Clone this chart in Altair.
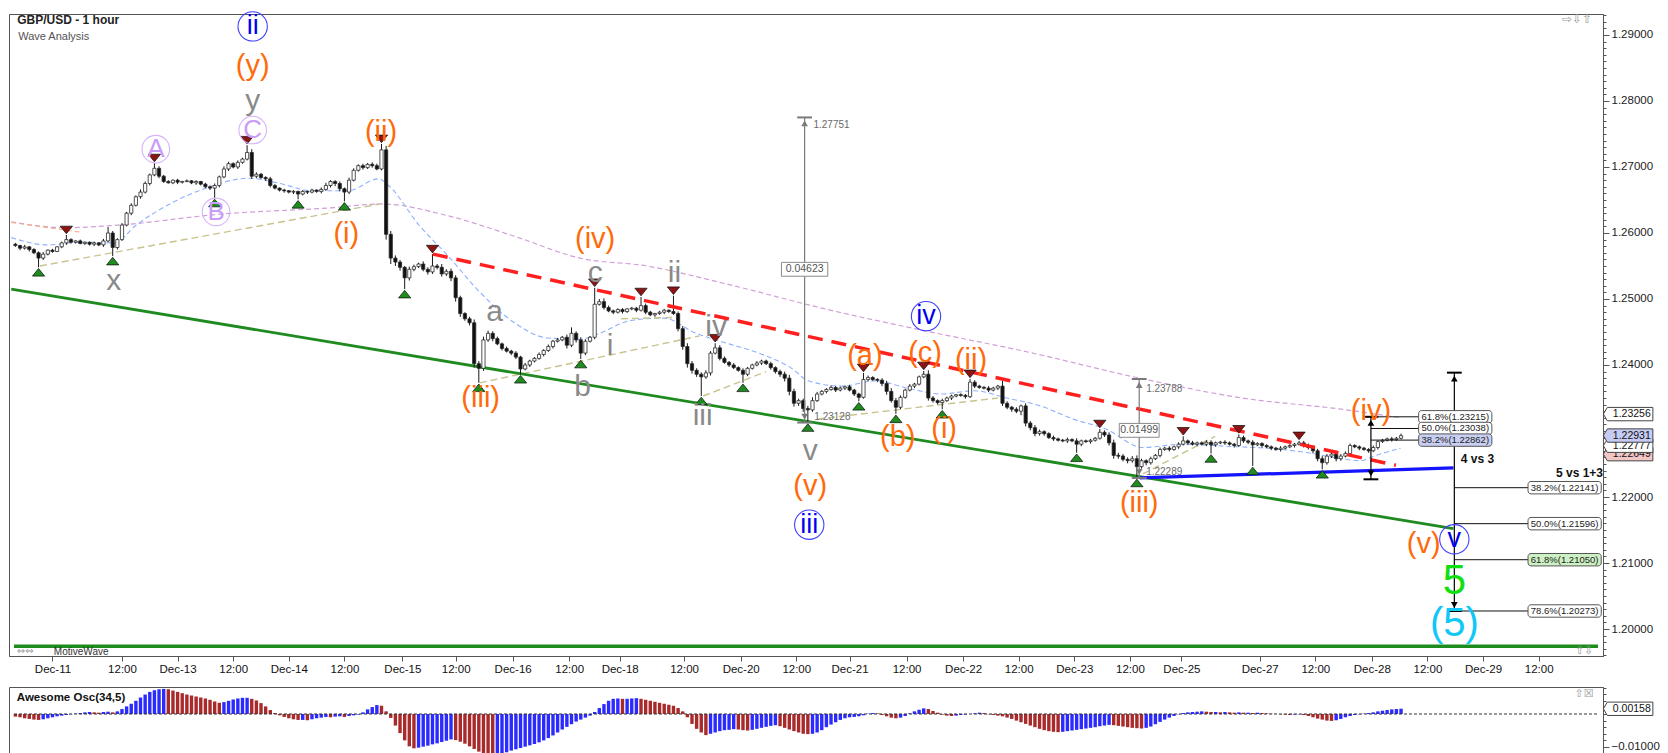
import altair as alt
import pandas as pd

FONT = "Liberation Sans"

# ---------------------------------------------------------------- data ----
# closes, in pips above 1.20000 (580 -> 1.25800), one per 1-hour bar
CLOSE_PIPS = [
    581, 577, 579, 575, 570, 562, 568, 574, 572, 579,
    585, 590, 586, 588, 584, 586, 583, 585, 582, 588,
    600, 578, 590, 612, 630, 642, 655, 662, 675, 688,
    698, 686, 678, 676, 680, 677, 678, 679, 676, 678,
    674, 670, 668, 672, 685, 697, 705, 700, 707, 712,
    722, 686, 689, 684, 682, 672, 668, 665, 664, 662,
    663, 659, 663, 662, 665, 663, 666, 672, 678, 675,
    667, 662, 680, 695, 702, 699, 704, 702, 697, 726,
    598, 562, 556, 548, 532, 545, 549, 553, 545, 541,
    550, 548, 538, 542, 532, 502, 478, 470, 464, 402,
    395, 438, 448, 440, 432, 425, 421, 418, 412, 394,
    400, 406, 410, 416, 422, 428, 436, 438, 442, 430,
    448, 438, 418, 436, 442, 492, 496, 487, 482, 480,
    484, 481, 485, 486, 483, 490, 480, 476, 478, 480,
    483, 481, 478, 455, 428, 402, 392, 386, 382, 388,
    418, 426, 410, 404, 400, 396, 392, 386, 395, 400,
    403, 406, 402, 396, 390, 386, 380, 360, 342, 346,
    334, 332, 346, 356, 360, 363, 366, 362, 365, 367,
    362, 356, 351, 378, 381, 378, 377, 372, 360, 346,
    336, 351, 362, 368, 371, 382, 386, 350, 346, 343,
    346, 350, 353, 355, 354, 352, 374, 368, 366, 365,
    362, 365, 368, 342, 336, 333, 330, 338, 312, 305,
    296, 299, 296, 290, 288, 286, 285, 287, 285, 280,
    285, 284, 286, 289, 298, 294, 282, 263, 262, 257,
    255, 258, 246, 255, 252, 258, 263, 272, 274, 272,
    276, 280, 285, 282, 280, 282, 280, 283, 279, 282,
    283, 282, 280, 278, 290, 285, 283, 279, 281, 278,
    276, 274, 272, 274, 276, 278, 280, 282, 278, 275,
    270, 258, 252, 262, 265, 258, 262, 266, 278, 276,
    274, 272, 270, 275, 284, 286, 288, 287, 289, 293,
]
# upper / lower wick length of each bar, in pips (one digit per bar)
WICK_UP = ("2131223121" "2021211213" "9323232432" "0322121212" "1223243232"
           "0532232121" "2121213422" "3243232330" "6543243243" "0353443235"
           "4543323232" "3223232324" "9343204532" "2212203212" "2103454334"
           "3043232322" "3223234543" "3453223222" "3220322345" "4323220632"
           "3221220322" "3228323243" "4322322324" "2222034543" "3453232323"
           "2302322332" "2322032322" "2223222033" "3343453332" "2223222323")
WICK_DN = ("2323203221" "2322122323" "2032232323" "2321232123" "2230323232"
           "2432332232" "3023223234" "4032232322" "8965043234" "3343565346"
           "0434232330" "2322323225" "3403232323" "2322323232" "3224565403"
           "4232322032" "2323345654" "5032232323" "2302323453" "0322322433"
           "0232232322" "3234343654" "4332322320" "3232234543" "4303432323"
           "2323232303" "2323233023" "2323223233" "4403343232" "3232322322")

# swing lows (green markers) and swing highs (red markers)
GREEN_BARS = [5, 21, 43, 61, 71, 84, 100, 109, 122, 148, 157, 171, 182, 190, 200, 229, 242, 258, 267, 282]
GREEN_LOWS = [1.2548, 1.2565, 1.2653, 1.2651, 1.2648, 1.2515, 1.2373, 1.2386, 1.2409, 1.2353,
              1.2373, 1.23128, 1.2345, 1.2326, 1.2333, 1.2267, 1.22289, 1.2266, 1.2247, 1.2242]
RED_BARS = [11, 30, 50, 79, 90, 125, 135, 142, 151, 183, 196, 206, 234, 252, 264, 277]
RED_HIGHS = [1.2597, 1.2706, 1.2733, 1.2735, 1.2568, 1.2517, 1.2503, 1.2505, 1.2433, 1.2388,
             1.2391, 1.2379, 1.2303, 1.2292, 1.2295, 1.2285]

# Awesome Oscillator (34,5), in thousandths
AO_MILLI = [
    -0.8, -1.0, -1.3, -1.5, -1.7, -1.8, -1.6, -1.3, -1.0, -0.7,
    -0.5, -0.3, -0.1, 0.1, 0.3, 0.5, 0.6, 0.5, 0.4, 0.6,
    0.7, 0.5, 0.8, 1.5, 2.3, 3.1, 4.0, 5.0, 5.9, 6.7,
    7.2, 7.5, 7.6, 7.5, 7.1, 6.7, 6.3, 5.9, 5.6, 5.3,
    5.0, 4.7, 4.3, 3.8, 3.4, 3.6, 4.0, 4.4, 4.7, 4.9,
    4.9, 4.6, 4.1, 3.3, 2.3, 1.2, 0.3, -0.4, -0.9, -1.3,
    -1.6, -1.8, -1.8, -1.9, -1.6, -1.3, -1.1, -0.9, -1.0, -0.8,
    -0.7, -0.9, -0.6, -0.4, -0.2, 0.5, 1.4, 2.1, 2.7, 2.5,
    0.8, -1.2, -3.5, -5.8, -8.0, -9.8, -10.4, -10.2, -9.9, -9.6,
    -9.2, -8.9, -8.5, -8.1, -7.7, -7.9, -8.4, -9.0, -9.8, -10.6,
    -11.4, -12.1, -12.6, -12.8, -12.5, -12.1, -11.6, -11.1, -10.7, -10.3,
    -9.9, -9.5, -9.1, -8.6, -8.0, -7.3, -6.5, -5.6, -4.7, -3.9,
    -3.1, -2.3, -1.7, -1.1, -0.5, 0.6, 1.8, 3.0, 4.0, 4.6,
    4.7, 4.6, 4.6, 4.7, 4.8, 4.6, 4.3, 4.0, 3.7, 3.4,
    3.1, 2.8, 2.5, 1.8, 0.8, -1.0, -3.0, -4.5, -5.6, -6.4,
    -6.0, -5.6, -5.2, -4.9, -4.8, -4.6, -4.7, -4.9, -5.0, -4.8,
    -4.5, -4.2, -3.9, -3.6, -3.4, -3.7, -4.2, -4.7, -5.2, -5.6,
    -6.0, -6.1, -6.0, -5.6, -4.9, -4.0, -3.2, -2.5, -1.8, -1.3,
    -1.0, -0.9, -0.7, -0.4, 0.1, 0.3, 0.2, -0.3, -0.7, -1.1,
    -1.3, -1.1, -0.6, 0.2, 0.8, 1.3, 1.7, 1.5, 0.9, 0.4,
    -0.2, -0.5, -0.6, -0.5, -0.3, -0.2, 0.0, 0.2, 0.4, 0.3,
    -0.1, -0.3, -0.5, -0.7, -1.1, -1.5, -2.0, -2.5, -3.0, -3.5,
    -4.0, -4.5, -4.9, -5.2, -5.4, -5.5, -5.4, -5.2, -5.0, -4.8,
    -4.6, -4.4, -4.2, -4.0, -3.7, -3.5, -3.3, -3.4, -3.6, -3.8,
    -4.0, -4.2, -4.3, -4.4, -4.2, -3.8, -3.1, -2.4, -1.7, -1.1,
    -0.6, -0.1, 0.3, 0.5, 0.6, 0.7, 0.8, 0.7, 0.6, 0.6,
    0.5, 0.6, 0.5, 0.4, 0.5, 0.4, 0.4, 0.3, 0.4, 0.3,
    0.2, 0.1, 0.0, -0.1, -0.2, -0.3, -0.2, -0.1, -0.3, -0.6,
    -1.0, -1.4, -1.7, -2.0, -2.1, -1.9, -1.5, -1.0, -0.6, -0.3,
    -0.1, 0.1, 0.3, 0.5, 0.8, 1.0, 1.2, 1.4, 1.5, 1.6,
]

# time axis (bar index of each tick and its label)
TICK_BARS = [8, 23, 35, 47, 59, 71, 83.5, 95, 107.3, 119.5, 130.4, 144.3, 156.5, 168.5,
             180, 192.3, 204.5, 216.5, 228.5, 240.5, 251.6, 268.5, 280.5, 292.7, 304.7, 316.7, 328.7]
TICK_LABELS = ["Dec-11", "12:00", "Dec-13", "12:00", "Dec-14", "12:00", "Dec-15", "12:00",
               "Dec-16", "12:00", "Dec-18", "12:00", "Dec-20", "12:00", "Dec-21", "12:00",
               "Dec-22", "12:00", "Dec-23", "12:00", "Dec-25", "Dec-27", "12:00", "Dec-28",
               "12:00", "Dec-29", "12:00"]

# moving averages (read as points along the curves)
PURPLE_MA_BAR = [-0.9, 10.7, 22.1, 45, 67.9, 79, 93.4, 107.7, 121.8, 136.2, 153.3, 174.7,
                 196.1, 217.6, 243.3, 264.7, 286.1, 298.9]
PURPLE_MA_PRICE = [1.2617, 1.2608, 1.2612, 1.2629, 1.2638, 1.2644, 1.2626, 1.2595, 1.2562,
                   1.2550, 1.2523, 1.2485, 1.2452, 1.2421, 1.2379, 1.2350, 1.2333, 1.2320]
BLUE_MA_BAR = [-0.9, 6.9, 14.3, 21.4, 25.9, 33.6, 41.1, 50.3, 56.5, 64.2, 71.7, 78.4, 80.5,
               87.2, 93.4, 100.4, 107.7, 114.8, 121.8, 126.1, 132.5, 139.8, 146.9, 154,
               160.4, 167.7, 171.1, 178.4, 185.4, 192.5, 199.8, 206.9, 213.9, 221.2, 228.3,
               235.3, 243.3, 251.8, 261, 271.7, 279, 286.1, 290.4, 293.2, 298.9]
BLUE_MA_PRICE = [1.2593, 1.2582, 1.2586, 1.2585, 1.2611, 1.2645, 1.2668, 1.2683, 1.2676,
                 1.2664, 1.2664, 1.2682, 1.2672, 1.2611, 1.2565, 1.2509, 1.2464, 1.2441,
                 1.2439, 1.2448, 1.2467, 1.2471, 1.2448, 1.2432, 1.2418, 1.2394, 1.2376,
                 1.2368, 1.2376, 1.2365, 1.2356, 1.2361, 1.2350, 1.2338, 1.2318, 1.2303,
                 1.2275, 1.2280, 1.2277, 1.2273, 1.2267, 1.2258, 1.2255, 1.2262, 1.2274]
ORANGE_MA_BAR = [-0.9, 14.3]
ORANGE_MA_PRICE = [1.2616, 1.2601]

# straight drawn lines: (bar1, price1, bar2, price2)
TAN_LINES = [(5.3, 1.2550, 78.6, 1.2644), (100.2, 1.2373, 147.6, 1.2444),
             (130.7, 1.2470, 142.0, 1.2472), (148.4, 1.2353, 162.0, 1.2390),
             (173.0, 1.2318, 212.0, 1.2350), (243.3, 1.2235, 258.9, 1.2292)]
GREEN_CHANNEL = (-0.9, 1.2515, 310.3, 1.2152)
RED_RESIST = (90.1, 1.2568, 297.9, 1.2248)
BLUE_SUPPORT = (242.6, 1.22289, 310.3, 1.2244)
BASE_LINE_PRICE = 1.1974

# wave labels
BLUE_WAVES = ["ii", "iii", "iv", "v"]
BLUE_BAR = [51.2, 171.3, 196.5, 310.5]
BLUE_PRICE = [1.2913, 1.2158, 1.2474, 1.2136]
ORANGE_WAVES = ["(y)", "(ii)", "(i)", "(iv)", "(iii)", "(v)", "(a)", "(c)", "(b)", "(i)",
                "(ii)", "(iii)", "(iv)", "(v)"]
ORANGE_BAR = [51.2, 78.9, 71.4, 125.1, 100.4, 171.5, 183.3, 196.3, 190.4, 200.4, 206.2,
              242.5, 292.5, 303.9]
ORANGE_PRICE = [1.2853, 1.2753, 1.2598, 1.2591, 1.2350, 1.2217, 1.2414, 1.2418, 1.2291,
                1.2303, 1.2408, 1.2191, 1.2330, 1.2129]
GRAY_WAVES = ["y", "x", "a", "b", "c", "i", "ii", "iv", "iii", "v"]
GRAY_BAR = [51.2, 21.2, 103.4, 122.4, 125.1, 128.3, 142.2, 151.2, 148.3, 171.5]
GRAY_PRICE = [1.2800, 1.2527, 1.2480, 1.2366, 1.2539, 1.2429, 1.2539, 1.2457, 1.2323, 1.2270]
LAV_WAVES = ["A", "B", "C"]
LAV_BAR = [30.3, 43.3, 51.2]
LAV_PRICE = [1.2727, 1.2632, 1.2756]
GREEN_WAVE = ("5", 310.5, 1.2073)
CYAN_WAVE = ("(5)", 310.5, 1.2008)

# measurement tools
MEASURE_BAR = [170.3, 242.5, 292.5, 310.5]
MEASURE_LOW = [1.23128, 1.22289, 1.22268, 1.20273]
MEASURE_HIGH = [1.27751, 1.23788, 1.23215, 1.23884]
MEASURE_COLOR = ["#7a7a7a", "#7a7a7a", "#000000", "#000000"]
DIFF_TEXT = ["0.04623", "0.01499"]
DIFF_BAR = [170.3, 242.5]
DIFF_PRICE = [1.2545, 1.2301]
DIFF_HALF = [5.0, 4.3]
NOTE_TEXT = ["1.27751", "1.23128", "1.23788", "1.22289"]
NOTE_BAR = [172.2, 172.4, 244.0, 244.0]
NOTE_PRICE = [1.2764, 1.2321, 1.2364, 1.2238]

FIB_C_PCT = [61.8, 50.0, 38.2]
FIB_C_VAL = [1.23215, 1.23038, 1.22862]
FIB_C_FILL = ["#ffffff", "#ffffff", "#c9cff3"]
FIB_D_PCT = [38.2, 50.0, 61.8, 78.6]
FIB_D_VAL = [1.22141, 1.21596, 1.21050, 1.20273]
FIB_D_FILL = ["#ffffff", "#ffffff", "#cdf0c4", "#ffffff"]

AXIS_TAG_VAL = [1.22649, 1.22777, 1.22931, 1.23256]
AXIS_TAG_FILL = ["#f3c6c6", "#ffffff", "#c6cbf3", "#ffffff"]
AO_TAG_VAL = 0.00158

# ------------------------------------------------------------- scales -----
X_DOM = [-0.3, 341.5]
XS = alt.Scale(domain=X_DOM, nice=False, zero=False)
YS = alt.Scale(domain=[1.19591, 1.29318], nice=False, zero=False)
AS = alt.Scale(domain=[-0.01364, 0.00818], nice=False, zero=False)

lab_arr = "[" + ",".join("'%s'" % s for s in TICK_LABELS) + "]"
bar_arr = "[" + ",".join(str(b) for b in TICK_BARS) + "]"
x_axis = alt.Axis(values=TICK_BARS, labelExpr=lab_arr + "[indexof(" + bar_arr + ", datum.value)]",
                  title=None, grid=False, tickSize=5, labelFont=FONT, labelFontSize=11.5,
                  labelColor="#111", domainColor="#555", tickColor="#555", labelPadding=2,
                  labelOverlap=False, labelFlush=False)
Y_TICKS = [round(1.196 + k * 0.001, 3) for k in range(98)]
major = "abs(datum.value*100 - round(datum.value*100)) < 0.01"
y_axis = alt.Axis(orient="right", values=Y_TICKS,
                  labelExpr="(" + major + " && abs(datum.value-1.23) > 0.0005) ? format(datum.value, '.5f') : ''",
                  tickSize={"condition": {"test": major, "value": 6}, "value": 3},
                  title=None, grid=False, labelFont=FONT, labelFontSize=11.5, labelColor="#222",
                  domainColor="#555", tickColor="#555", labelOverlap=False, labelPadding=2)
A_TICKS = [round(-0.012 + 0.002 * k, 3) for k in range(11)]
a_major = "abs(datum.value + 0.01) < 0.0001 || abs(datum.value) < 0.0001"
a_axis = alt.Axis(orient="right", values=A_TICKS,
                  labelExpr="abs(datum.value + 0.01) < 0.0001 ? format(datum.value, '.5f') : ''",
                  tickSize={"condition": {"test": a_major, "value": 6}, "value": 3},
                  title=None, grid=False, labelFont=FONT, labelFontSize=11.5, labelColor="#222",
                  domainColor="#555", tickColor="#555", labelOverlap=False, labelPadding=2)

# price-tag outline: pointed on the left, about 50 x 13 px
TAG_SHAPE = "M-1,0L-0.84,-0.27L1,-0.27L1,0.27L-0.84,0.27Z"
TAG_SIZE = 2450


def X(f):
    return alt.X(f, type="quantitative", scale=XS, axis=x_axis)


def Y(f):
    return alt.Y(f, type="quantitative", scale=YS, axis=y_axis)


def seg_df(segs):
    return pd.DataFrame([dict(b1=a, p1=b, b2=c, p2=d) for a, b, c, d in segs])


def seg_layer(segs, **mk):
    return alt.Chart(seg_df(segs)).mark_rule(**mk).encode(
        x=X("b1"), x2=alt.X2("b2"), y=Y("p1"), y2=alt.Y2("p2"))


def text_layer(labels, bars, prices, size, color, weight="normal", align="center", font=FONT):
    df = pd.DataFrame({"label": labels, "bar": bars, "price": prices})
    return alt.Chart(df).mark_text(fontSize=size, color=color, fontWeight=weight, align=align,
                                   baseline="middle", font=font).encode(
        x=X("bar"), y=Y("price"), text="label:N")


# ------------------------------------------------------------ candles -----
pip = lambda v: 1.2 + v / 10000.0
close = [pip(v) for v in CLOSE_PIPS]
opens = [pip(CLOSE_PIPS[0] + 2)] + close[:-1]
hi_piv = dict(zip(RED_BARS, RED_HIGHS))
lo_piv = dict(zip(GREEN_BARS, GREEN_LOWS))
rows = []
for i, (o, c) in enumerate(zip(opens, close)):
    hi = max(o, c) + int(WICK_UP[i]) / 10000.0
    lo = min(o, c) - int(WICK_DN[i]) / 10000.0
    hi = max(hi, hi_piv.get(i, hi))
    lo = min(lo, lo_piv.get(i, lo))
    top, bot = max(o, c), min(o, c)
    if top - bot < 0.00012:
        mid = (top + bot) / 2
        top, bot = mid + 0.00006, mid - 0.00006
    rows.append(dict(bar=i, high=hi, low=lo, top=top, bot=bot,
                     fill="#ffffff" if c >= o else "#111111"))
candles = pd.DataFrame(rows)

layers = []
# bottom green horizontal line
layers.append(seg_layer([(X_DOM[0], BASE_LINE_PRICE, X_DOM[1], BASE_LINE_PRICE)],
                        color="#1c8c1c", strokeWidth=3.5))
# moving averages
layers.append(alt.Chart(pd.DataFrame({"bar": PURPLE_MA_BAR, "price": PURPLE_MA_PRICE}))
              .mark_line(color="#cf9fd6", strokeDash=[5, 3], strokeWidth=1.2, interpolate="monotone")
              .encode(x=X("bar"), y=Y("price")))
layers.append(alt.Chart(pd.DataFrame({"bar": BLUE_MA_BAR, "price": BLUE_MA_PRICE}))
              .mark_line(color="#8fb0ff", strokeDash=[5, 3], strokeWidth=1.1, interpolate="monotone")
              .encode(x=X("bar"), y=Y("price")))
layers.append(alt.Chart(pd.DataFrame({"bar": ORANGE_MA_BAR, "price": ORANGE_MA_PRICE}))
              .mark_line(color="#f5b08a", strokeDash=[5, 3], strokeWidth=1.1)
              .encode(x=X("bar"), y=Y("price")))
layers.append(seg_layer(TAN_LINES, color="#c9c38f", strokeDash=[7, 4], strokeWidth=1.4))
layers.append(seg_layer([GREEN_CHANNEL], color="#1f8a1f", strokeWidth=2.8))
# candles
layers.append(alt.Chart(candles).mark_rule(color="#1a1a1a", strokeWidth=1).encode(
    x=X("bar"), y=Y("low"), y2=alt.Y2("high")))
layers.append(alt.Chart(candles).mark_bar(size=3.2, stroke="#2a2a2a", strokeWidth=0.8).encode(
    x=X("bar"), y=Y("bot"), y2=alt.Y2("top"), fill=alt.Fill("fill:N", scale=None)))
layers.append(seg_layer([RED_RESIST], color="#ff1f1f", strokeDash=[15, 9], strokeWidth=3.5))
layers.append(seg_layer([BLUE_SUPPORT], color="#1414ff", strokeWidth=3.2))

# swing markers
tri_up = "M0,-0.62L1,0.62L-1,0.62Z"
tri_dn = "M0,0.62L1,-0.62L-1,-0.62Z"
layers.append(alt.Chart(pd.DataFrame({"bar": GREEN_BARS, "price": GREEN_LOWS}))
              .mark_point(shape=tri_up, filled=True, fill="#1e8c1e", stroke="#0a0a0a",
                          strokeWidth=0.7, size=150, opacity=1, yOffset=5)
              .encode(x=X("bar"), y=Y("price")))
layers.append(alt.Chart(pd.DataFrame({"bar": RED_BARS, "price": RED_HIGHS}))
              .mark_point(shape=tri_dn, filled=True, fill="#8e1414", stroke="#0a0a0a",
                          strokeWidth=0.7, size=150, opacity=1, yOffset=-5)
              .encode(x=X("bar"), y=Y("price")))

# measurement tools: vertical lines, caps and arrow heads
mdf = pd.DataFrame({"bar": MEASURE_BAR, "lo": MEASURE_LOW, "hi": MEASURE_HIGH, "col": MEASURE_COLOR})
mdf["bl"] = mdf["bar"] - 1.6
mdf["br"] = mdf["bar"] + 1.6
layers.append(alt.Chart(mdf).mark_rule(strokeWidth=1.2).encode(
    x=X("bar"), y=Y("lo"), y2=alt.Y2("hi"), color=alt.Color("col:N", scale=None)))
for fld in ("lo", "hi"):
    layers.append(alt.Chart(mdf).mark_rule(strokeWidth=2).encode(
        x=X("bl"), x2=alt.X2("br"), y=Y(fld), color=alt.Color("col:N", scale=None)))
layers.append(alt.Chart(mdf).mark_point(shape="triangle-up", filled=True, size=45, opacity=1, yOffset=6)
              .encode(x=X("bar"), y=Y("hi"), color=alt.Color("col:N", scale=None)))
layers.append(alt.Chart(mdf).mark_point(shape="triangle-down", filled=True, size=45, opacity=1, yOffset=-6)
              .encode(x=X("bar"), y=Y("lo"), color=alt.Color("col:N", scale=None)))

# difference boxes
ddf = pd.DataFrame({"label": DIFF_TEXT, "bar": DIFF_BAR, "price": DIFF_PRICE, "half": DIFF_HALF})
ddf["bl"] = ddf["bar"] - ddf["half"]
ddf["br"] = ddf["bar"] + ddf["half"]
ddf["pl"] = ddf["price"] - 0.00105
ddf["ph"] = ddf["price"] + 0.00105
layers.append(alt.Chart(ddf).mark_rect(fill="white", stroke="#8a8a8a", strokeWidth=1).encode(
    x=X("bl"), x2=alt.X2("br"), y=Y("pl"), y2=alt.Y2("ph")))
layers.append(text_layer(DIFF_TEXT, DIFF_BAR, DIFF_PRICE, 10.5, "#555"))
layers.append(text_layer(NOTE_TEXT, NOTE_BAR, NOTE_PRICE, 10, "#6a6a6a", align="left"))


# fibonacci levels with labelled boxes
def fib_layers(pcts, vals, fills, x0, x1, box_l, box_r):
    f = pd.DataFrame({"pct": pcts, "val": vals, "fill": fills})
    f["label"] = [("%.1f%%(%.5f)" % (p, v)) for p, v in zip(pcts, vals)]
    f["x0"], f["x1"], f["bl"], f["br"] = x0, x1, box_l, box_r
    f["bm"] = (box_l + box_r) / 2
    f["pl"] = f["val"] - 0.00094
    f["ph"] = f["val"] + 0.00094
    return [
        alt.Chart(f).mark_rule(color="#111", strokeWidth=1).encode(
            x=X("x0"), x2=alt.X2("x1"), y=Y("val")),
        alt.Chart(f).mark_rect(stroke="#555", strokeWidth=1, cornerRadius=3).encode(
            x=X("bl"), x2=alt.X2("br"), y=Y("pl"), y2=alt.Y2("ph"),
            fill=alt.Fill("fill:N", scale=None)),
        alt.Chart(f).mark_text(fontSize=9.5, font=FONT, color="#222", baseline="middle").encode(
            x=X("bm"), y=Y("val"), text="label:N"),
    ]


layers += fib_layers(FIB_C_PCT, FIB_C_VAL, FIB_C_FILL, 292.5, 302.8, 302.8, 318.6)
layers += fib_layers(FIB_D_PCT, FIB_D_VAL, FIB_D_FILL, 310.5, 326.4, 326.4, 342.2)
layers.append(text_layer(["4 vs 3", "5 vs 1+3"], [315.5, 337.5], [1.2258, 1.2236], 12, "#111", weight="bold"))

# wave labels
cdf_blue = pd.DataFrame({"bar": BLUE_BAR, "price": BLUE_PRICE})
layers.append(alt.Chart(cdf_blue).mark_point(shape="circle", filled=False, size=860, stroke="#4040ff",
                                             strokeWidth=1.1, opacity=1)
              .encode(x=X("bar"), y=Y("price")))
layers.append(text_layer(BLUE_WAVES, BLUE_BAR, BLUE_PRICE, 27, "#0000f0"))
cdf_lav = pd.DataFrame({"bar": LAV_BAR, "price": LAV_PRICE})
layers.append(alt.Chart(cdf_lav).mark_point(shape="circle", filled=False, size=760, stroke="#d7b4fa",
                                            strokeWidth=1.1, opacity=1)
              .encode(x=X("bar"), y=Y("price")))
layers.append(text_layer(LAV_WAVES, LAV_BAR, LAV_PRICE, 26, "#c99cf7"))
layers.append(text_layer(ORANGE_WAVES, ORANGE_BAR, ORANGE_PRICE, 29, "#ff6a0a"))
layers.append(text_layer(GRAY_WAVES, GRAY_BAR, GRAY_PRICE, 30, "#8a8a8a"))
layers.append(text_layer([GREEN_WAVE[0]], [GREEN_WAVE[1]], [GREEN_WAVE[2]], 42, "#10e010"))
layers.append(text_layer([CYAN_WAVE[0]], [CYAN_WAVE[1]], [CYAN_WAVE[2]], 40, "#10c8f8"))

# titles and small decorations
layers.append(text_layer(["GBP/USD - 1 hour"], [0.4], [1.29227], 12, "#222", weight="bold", align="left"))
layers.append(text_layer(["Wave Analysis"], [0.6], [1.2897], 11, "#555", align="left"))
layers.append(text_layer(["MotiveWave"], [8.3], [1.1965], 10, "#333", align="left"))
layers.append(text_layer(["\u21d4\u21d4"], [0.3], [1.1966], 10, "#999", align="left", font="DejaVu Sans"))
layers.append(text_layer(["\u21e8\u21e9\u21e7"], [337.0], [1.2924], 12, "#999", font="DejaVu Sans"))
layers.append(text_layer(["\u21e7\u21e9"], [338.5], [1.1966], 11, "#999", font="DejaVu Sans"))

# price tags on the axis (pointed towards the axis line)
for v, fcol in zip(AXIS_TAG_VAL, AXIS_TAG_FILL):
    t = pd.DataFrame({"bc": [348.0], "bm": [348.8], "v": [v], "label": ["%.5f" % v]})
    layers.append(alt.Chart(t).mark_point(shape=TAG_SHAPE, size=TAG_SIZE, filled=True, fill=fcol,
                                          stroke="#444", strokeWidth=1, opacity=1).encode(
        x=X("bc"), y=Y("v")))
    layers.append(alt.Chart(t).mark_text(fontSize=10.5, font=FONT, color="#111", baseline="middle").encode(
        x=X("bm"), y=Y("v"), text="label:N"))

price_chart = alt.layer(*layers).properties(width=1594, height=642)

# ------------------------------------------------------- oscillator -------
ao_vals = [v / 1000.0 for v in AO_MILLI]
ao_cols = ["#a82a2a" if i == 0 or v < ao_vals[i - 1] else "#2b2bff" for i, v in enumerate(ao_vals)]
ao = pd.DataFrame({"bar": list(range(len(ao_vals))), "val": ao_vals, "zero": 0.0, "col": ao_cols})


def AX(f):
    return alt.X(f, type="quantitative", scale=XS, axis=None)


def AY(f):
    return alt.Y(f, type="quantitative", scale=AS, axis=a_axis)


osc_layers = [
    alt.Chart(ao).mark_bar(size=3.4).encode(x=AX("bar"), y=AY("val"), y2=alt.Y2("zero"),
                                           color=alt.Color("col:N", scale=None)),
    alt.Chart(pd.DataFrame({"b1": [X_DOM[0]], "b2": [X_DOM[1]], "v": [0.0]}))
    .mark_rule(color="#333", strokeDash=[3, 2], strokeWidth=1)
    .encode(x=AX("b1"), x2=alt.X2("b2"), y=AY("v")),
    alt.Chart(pd.DataFrame({"label": ["Awesome Osc(34,5)"], "bar": [0.3], "v": [0.00485]}))
    .mark_text(fontSize=11.5, font=FONT, fontWeight="bold", color="#111", align="left", baseline="middle")
    .encode(x=AX("bar"), y=AY("v"), text="label:N"),
    alt.Chart(pd.DataFrame({"label": ["\u21e7\u2612"], "bar": [338.5], "v": [0.0062]}))
    .mark_text(fontSize=11, font="DejaVu Sans", color="#999", baseline="middle")
    .encode(x=AX("bar"), y=AY("v"), text="label:N"),
]
t = pd.DataFrame({"bc": [348.0], "bm": [348.8], "v": [AO_TAG_VAL], "label": ["%.5f" % AO_TAG_VAL]})
osc_layers.append(alt.Chart(t).mark_point(shape=TAG_SHAPE, size=TAG_SIZE, filled=True, fill="white",
                                          stroke="#444", strokeWidth=1, opacity=1).encode(
    x=AX("bc"), y=AY("v")))
osc_layers.append(alt.Chart(t).mark_text(fontSize=10.5, font=FONT, color="#111", baseline="middle").encode(
    x=AX("bm"), y=AY("v"), text="label:N"))
osc_chart = alt.layer(*osc_layers).properties(width=1594, height=72)

chart = (alt.vconcat(price_chart, osc_chart, spacing=6)
         .properties(padding={"left": 0, "right": 0, "top": 0, "bottom": 0}, background="white")
         .configure_view(stroke="#555", strokeWidth=1))

chart.save("out.html", embed_options={"renderer": "svg", "actions": False})
